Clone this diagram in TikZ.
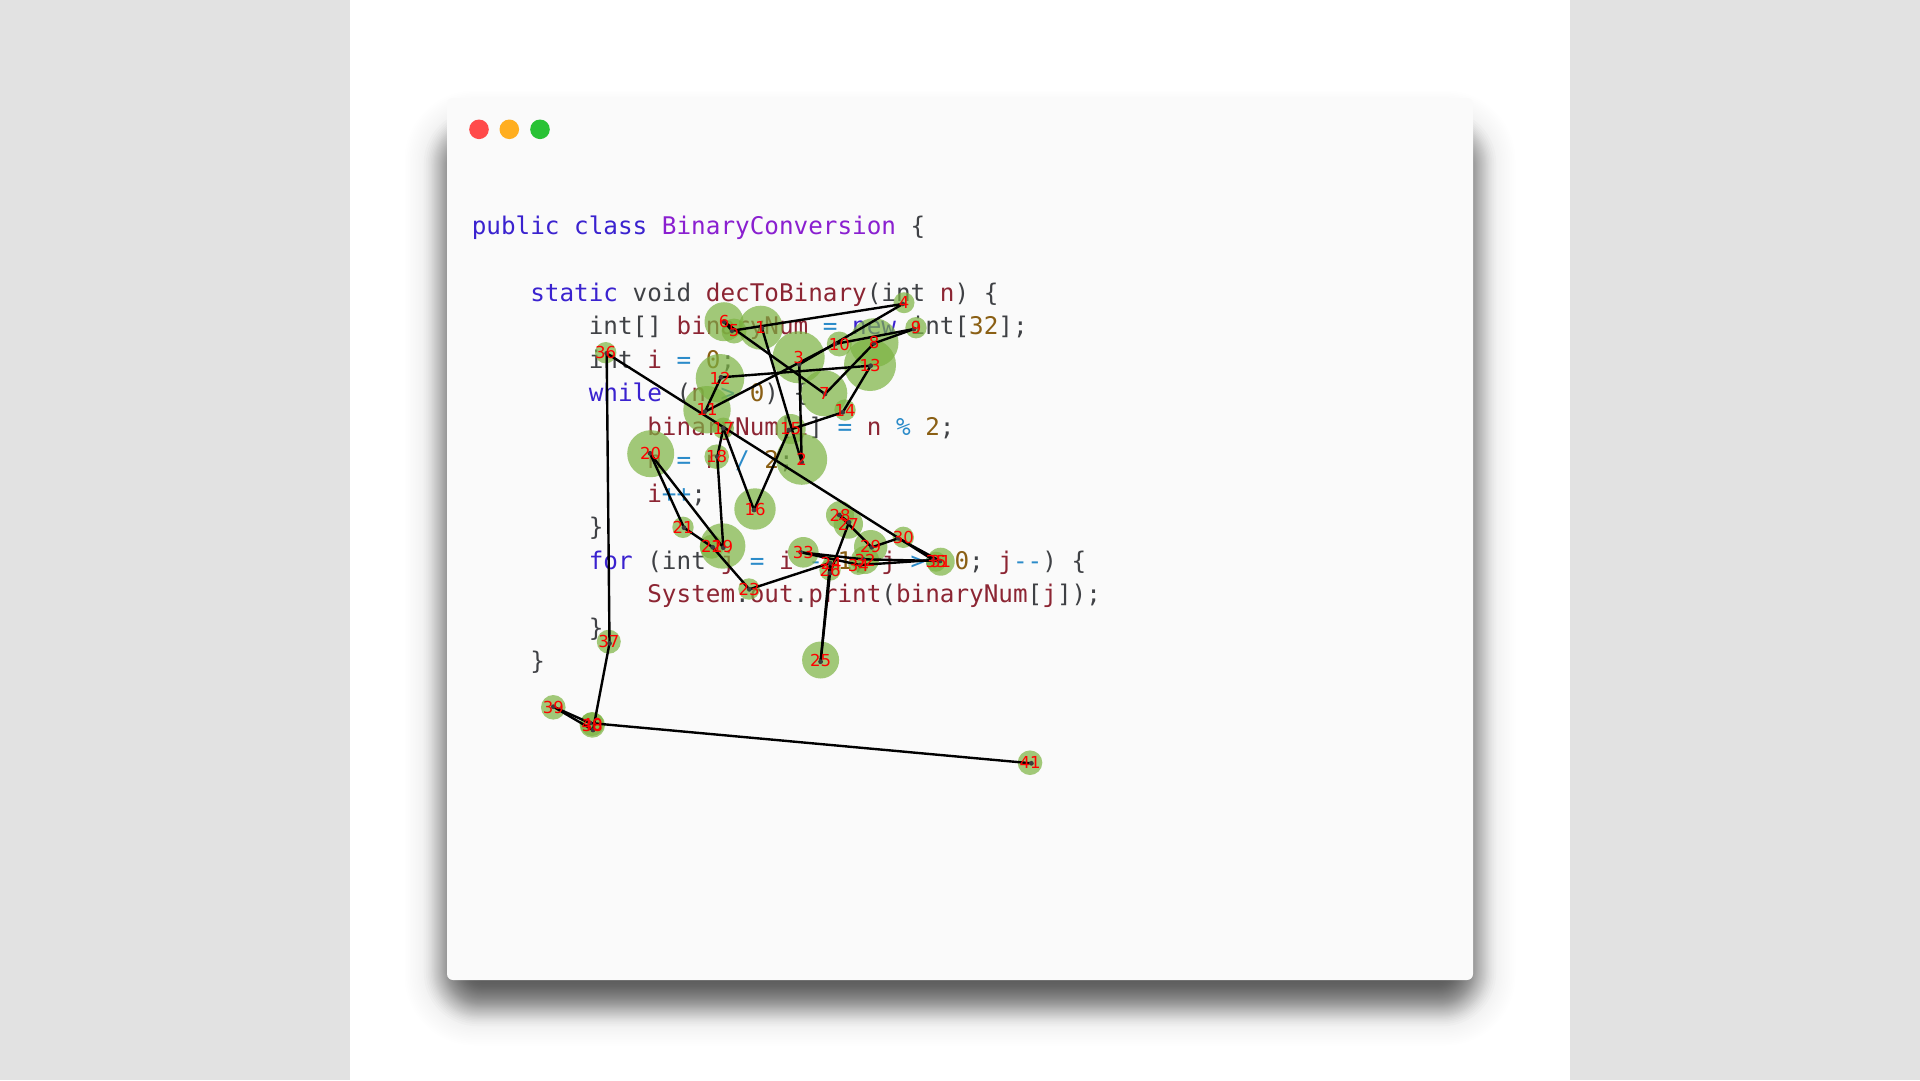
\documentclass[tikz,border=0pt]{standalone}
\usepackage{fontspec}
\usepackage{xcolor}
\newfontfamily\codefont{DejaVu Sans Mono}
\newfontfamily\labelfont{DejaVu Sans}
\definecolor{sidegray}{HTML}{E2E2E2}
\definecolor{winbg}{HTML}{FAFAFA}
\definecolor{ckw}{HTML}{3A22CF}
\definecolor{ccls}{HTML}{8A1FD0}
\definecolor{cname}{HTML}{8C2533}
\definecolor{cnum}{HTML}{8A5F14}
\definecolor{cop}{HTML}{2B8BC9}
\definecolor{cdef}{HTML}{3F4145}
\definecolor{bub}{HTML}{7CB342}
\definecolor{markc}{HTML}{3C3C3C}
\newcommand{\tkw}[1]{\textcolor{ckw}{#1}}
\newcommand{\tcl}[1]{\textcolor{ccls}{#1}}
\newcommand{\tnm}[1]{\textcolor{cname}{#1}}
\newcommand{\tnum}[1]{\textcolor{cnum}{#1}}
\newcommand{\toper}[1]{\textcolor{cop}{#1}}
\tikzset{
  codeline/.style={anchor=base west,inner sep=0pt,outer sep=0pt,text=cdef,font=\codefont\fontsize{24.3}{30}\selectfont},
  bubble/.style={circle,fill=bub,fill opacity=0.7,draw=none,inner sep=0pt,outer sep=0pt},
  edge/.style={draw=black,line width=2.4pt,line cap=round,line join=round},
  pointmark/.style={fill=markc,draw=none},
  numlabel/.style={text=red,inner sep=0pt,outer sep=0pt,font=\labelfont\fontsize{16.5}{18}\selectfont},
  light/.style={circle,draw=none,minimum size=19.6pt,inner sep=0pt}
}
\begin{document}
\begin{tikzpicture}[x=1pt,y=-1pt]
\useasboundingbox (0,0) rectangle (1920,1080);
\fill[sidegray] (0,0) rectangle (1920,1080);
\fill[white] (350,0) rectangle (1570,1080);
% window shadow: stacked faint layers spaced by a Gaussian profile
\foreach \q in {2.5,2.4,2.3,2.2,2.1,2.0,1.9,1.8,1.72,1.64,1.56,1.48}{
  \pgfmathsetmacro{\d}{\q*17}
  \pgfmathsetmacro{\rc}{max(4,(\d+40)*0.85)}
  \fill[black,fill opacity=0.0035,rounded corners=\rc pt] (447-\d,133-\d) rectangle (1473+\d,1003+\d);
}
\foreach \q in {1.37,1.24,1.13,1.04,0.95,0.87,0.80,0.74,0.67,0.61,0.55,0.50,0.44,0.39,0.33,0.28,0.23,0.18,0.13,0.08,0.03,-0.03,-0.08,-0.13,-0.18,-0.23,-0.28,-0.33,-0.39,-0.44,-0.50,-0.55,-0.61,-0.67,-0.74,-0.80,-0.87,-0.95,-1.04,-1.13,-1.24,-1.37,-1.54,-1.78,-2.24}{
  \pgfmathsetmacro{\d}{\q*17}
  \pgfmathsetmacro{\rc}{max(4,(\d+40)*0.85)}
  \fill[black,fill opacity=0.02,rounded corners=\rc pt] (447-\d,133-\d) rectangle (1473+\d,1003+\d);
}
\fill[winbg,rounded corners=6pt] (447,98) rectangle (1473,980);
\node[light,fill={rgb,255:red,255;green,74;blue,74}] (lr) at (479,129.3) {};
\node[light,fill={rgb,255:red,255;green,174;blue,32}] (ly) at (509.3,129.3) {};
\node[light,fill={rgb,255:red,40;green,194;blue,52}] (lg) at (540,129.3) {};
% code
\def\lh{33.45}
\def\chw{14.63}
\def\ox{471.8}
\def\oy{234.6}
\node[codeline] (c0) at (\ox,\oy) {\tkw{public class} \tcl{BinaryConversion} \{};
\node[codeline] (c2) at (\ox+4*\chw,\oy+2*\lh) {\tkw{static} void \tnm{decToBinary}(int \tnm{n}) \{};
\node[codeline] (c3) at (\ox+8*\chw,\oy+3*\lh) {int[] \tnm{binaryNum} \toper{=} \tkw{new} int[\tnum{32}];};
\node[codeline] (c4) at (\ox+8*\chw,\oy+4*\lh) {int \tnm{i} \toper{=} \tnum{0};};
\node[codeline] (c5) at (\ox+8*\chw,\oy+5*\lh) {\tkw{while} (\tnm{n} \toper{>} \tnum{0}) \{};
\node[codeline] (c6) at (\ox+12*\chw,\oy+6*\lh) {\tnm{binaryNum}[\tnm{i}] \toper{=} \tnm{n} \toper{\%} \tnum{2};};
\node[codeline] (c7) at (\ox+12*\chw,\oy+7*\lh) {\tnm{n} \toper{=} \tnm{n} \toper{/} \tnum{2};};
\node[codeline] (c8) at (\ox+12*\chw,\oy+8*\lh) {\tnm{i}\toper{++};};
\node[codeline] (c9) at (\ox+8*\chw,\oy+9*\lh) {\}};
\node[codeline] (c10) at (\ox+8*\chw,\oy+10*\lh) {\tkw{for} (int \tnm{j} \toper{=} \tnm{i} \toper{-} \tnum{1}; \tnm{j} \toper{>=} \tnum{0}; \tnm{j}\toper{--}) \{};
\node[codeline] (c11) at (\ox+12*\chw,\oy+11*\lh) {\tnm{System}.\tnm{out}.\tnm{print}(\tnm{binaryNum}[\tnm{j}]);};
\node[codeline] (c12) at (\ox+8*\chw,\oy+12*\lh) {\}};
\node[codeline] (c13) at (\ox+4*\chw,\oy+13*\lh) {\}};
% fixation data: id / circle x / y / r / point x / y
\def\fixlist{
1/760.7/327.7/22/762/328.3,
2/801.7/459.3/25.5/801.7/462.3,
3/798.7/357.3/26/799.3/364.3,
4/904/302.7/10.5/902.7/304,
5/734/331/12.5/732/330.7,
6/724/321.7/19.5/724/321.7,
7/824.3/393.3/23/825/394,
8/874/342.7/24.5/874/343.3,
9/916/327.7/10.7/914/329,
10/839.3/344/12.5/835/344,
11/707/409.7/23.7/705/411.7,
12/720/378.3/24.3/721/377.3,
13/870/365/26/870.7/365.7,
14/845/410/10.7/842.7/412.3,
15/790.7/429/15/789/430,
16/755/509/20.7/754/510,
17/723.3/428.3/10.7/723.3/428.3,
18/716.7/456.7/12.3/717.3/456.7,
19/722.7/546/22.7/723.3/547.7,
20/650.7/453.7/23.5/650/453.3,
21/683/527.3/10.7/684/527.7,
22/711.7/546.7/12/712.7/547.3,
23/749/589/10.7/749.3/589.3,
24/831/563/8/830/563,
25/820.6/660/18.5/820.6/661.7,
26/830/570/10.7/830/573,
27/848.3/524/14.7/849/522.3,
28/840/515/14/839.3/515,
29/870.7/546.7/16.7/871.7/547.3,
30/903.3/537.3/10.7/898.3/538.3,
31/940.7/561.7/14/940/561,
32/865/560/14/863.3/559.3,
33/803.3/552.3/15.3/800.7/552.3,
34/858.3/565/10/860/565,
35/936/561.7/10/933.3/560,
36/605.7/352.7/10.7/606.7/353.3,
37/608.8/641.7/12/609.5/643.3,
38/592.3/725/12.7/593/730,
39/553.3/707.3/12.3/553.3/706.7,
40/592/724/12/590/723,
41/1030/762.7/12.3/1031.4/763.3}
\foreach \i/\cx/\cy/\rad/\px/\py in \fixlist {
  \node[bubble,minimum size=2*\rad pt] (b\i) at (\cx,\cy) {};
}
\foreach \i/\cx/\cy/\rad/\px/\py in \fixlist {
  \coordinate (p\i) at (\px,\py);
}
\foreach \a [remember=\a as \b (initially 1)] in {2,...,41} {
  \draw[edge] (p\b) -- (p\a);
}
\foreach \i in {1,...,41} { \fill[pointmark] (p\i) circle (2.4pt); }
\foreach \i/\cx/\cy/\rad/\px/\py in \fixlist {
  \node[numlabel] (t\i) at (\cx,\cy) {\i};
}
\end{tikzpicture}
\end{document}
